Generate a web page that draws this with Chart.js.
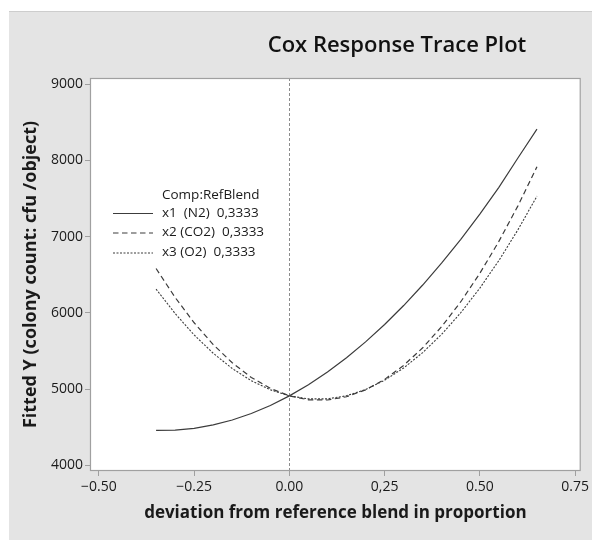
<!DOCTYPE html>
<html>
<head>
<meta charset="utf-8">
<script src="https://cdn.jsdelivr.net/npm/chart.js@4.4.1/dist/chart.umd.min.js"></script>
<style>
html,body{margin:0;padding:0;background:#fff;}
#wrap{width:592px;height:540px;position:relative;}
canvas{display:block;}
</style>
</head>
<body>
<div id="wrap"><canvas id="c" width="592" height="540"></canvas></div>
<script>
const chartTitle = "Cox Response Trace Plot";
const xTitle = "deviation from reference blend in proportion";
const yTitle = "Fitted Y (colony count: cfu /object)";
const legendTitle = "Comp:RefBlend";

const xValues = [-0.35,-0.30,-0.25,-0.20,-0.15,-0.10,-0.05,0.00,0.05,0.10,0.15,0.20,0.25,0.30,0.35,0.40,0.45,0.50,0.55,0.60,0.65];
const seriesN2  = [4459,4462,4485,4530,4594,4679,4784,4910,5056,5223,5410,5618,5846,6095,6364,6654,6964,7295,7645,8030,8409];
const seriesCO2 = [6581,6201,5869,5583,5344,5152,5008,4910,4859,4856,4899,4989,5126,5310,5541,5820,6145,6517,6936,7402,7915];
const seriesO2  = [6310,5990,5709,5469,5269,5109,4990,4910,4871,4871,4912,4993,5115,5276,5478,5719,6001,6323,6685,7088,7530];
const seriesLabels = ["x1  (N2)  0,3333", "x2 (CO2)  0,3333", "x3 (O2)  0,3333"];

const xTickValues = [-0.50,-0.25,0.00,0.25,0.50,0.75];
const xTickLabels = ["\u22120.50","\u22120.25","0.00","0,25","0.50","0.75"];
const yTickValues = [4000,5000,6000,7000,8000,9000];
const yTickLabels = ["4000","5000","6000","7000","8000","9000"];

const FONT = '"Open Sans", "Noto Sans", sans-serif';
Chart.defaults.font.family = FONT;
Chart.defaults.color = '#1a1a1a';

const lineColor = '#3c3c3c';
const dashes = [[], [5.5,3.5], [2,1.5]];

function pts(arr){ return xValues.map((x,i)=>({x:x, y:arr[i]})); }

const decor = {
  id:'decor',
  beforeDraw(chart){
    const {ctx, chartArea:a} = chart;
    ctx.save();
    ctx.fillStyle='#ffffff'; ctx.fillRect(0,0,chart.width,chart.height);
    ctx.fillStyle='#e4e4e4'; ctx.fillRect(9,11,chart.width-9,chart.height-11);
    ctx.fillStyle='#cdcdcd'; ctx.fillRect(9,11,chart.width-9,1);
    ctx.fillStyle='#ffffff'; ctx.fillRect(a.left,a.top,a.right-a.left,a.bottom-a.top);
    ctx.fillStyle='#111';
    ctx.font='600 22px '+FONT;
    ctx.textAlign='center'; ctx.textBaseline='middle';
    ctx.fillText(chartTitle, 397, 46);
    ctx.restore();
  },
  beforeDatasetsDraw(chart){
    const {ctx, chartArea:a} = chart;
    const x0 = Math.round(chart.scales.x.getPixelForValue(0))+0.5;
    ctx.save();
    ctx.strokeStyle='#8c8c8c'; ctx.lineWidth=1; ctx.setLineDash([3,2]);
    ctx.beginPath(); ctx.moveTo(x0,a.top); ctx.lineTo(x0,a.bottom); ctx.stroke();
    ctx.restore();
  },
  afterDraw(chart){
    const {ctx, chartArea:a} = chart;
    ctx.save();
    ctx.strokeStyle='#a0a0a0'; ctx.lineWidth=1.2; ctx.setLineDash([]);
    ctx.strokeRect(a.left+0.5,a.top+0.5,a.right-a.left-1,a.bottom-a.top-1);
    // legend
    ctx.fillStyle='#1a1a1a';
    ctx.font='13.5px '+FONT;
    ctx.textAlign='left'; ctx.textBaseline='middle';
    ctx.fillText(legendTitle, 162, 195);
    const rows=[213,232.5,252.5];
    chart.data.datasets.forEach((ds,i)=>{
      ctx.strokeStyle=ds.borderColor; ctx.lineWidth=1.1; ctx.setLineDash(ds.borderDash||[]);
      ctx.beginPath(); ctx.moveTo(113,rows[i]+0.5); ctx.lineTo(153,rows[i]+0.5); ctx.stroke();
      ctx.fillText(ds.label, 162, rows[i]);
    });
    ctx.restore();
  }
};

new Chart(document.getElementById('c'), {
  type:'line',
  data:{
    datasets:[
      {label:seriesLabels[0], data:pts(seriesN2), borderColor:lineColor, borderWidth:1.2, borderDash:dashes[0], pointRadius:0, fill:false, tension:0},
      {label:seriesLabels[1], data:pts(seriesCO2), borderColor:lineColor, borderWidth:1.2, borderDash:dashes[1], pointRadius:0, fill:false, tension:0},
      {label:seriesLabels[2], data:pts(seriesO2), borderColor:lineColor, borderWidth:1.1, borderDash:dashes[2], pointRadius:0, fill:false, tension:0}
    ]
  },
  options:{
    responsive:false,
    animation:false,
    devicePixelRatio:1,
    layout:{padding:{left:0,top:78,right:9,bottom:0}},
    plugins:{legend:{display:false}, title:{display:false}, tooltip:{enabled:false}},
    scales:{
      x:{
        type:'linear', min:-0.5235, max:0.7649,
        afterBuildTicks(s){ s.ticks = xTickValues.map(v=>({value:v})); },
        afterFit(s){ s.height = 69; },
        ticks:{ autoSkip:false, maxRotation:0, padding:3, font:{size:14}, color:'#1a1a1a',
          callback(v){ const i = xTickValues.findIndex(t=>Math.abs(t-v)<1e-9); return i>=0?xTickLabels[i]:''; } },
        grid:{ display:true, drawOnChartArea:false, drawTicks:true, tickLength:5, tickColor:'#a0a0a0' },
        border:{ display:false },
        title:{ display:true, text:xTitle, font:{size:17, weight:'bold'}, color:'#1a1a1a', padding:{top:0,bottom:17} }
      },
      y:{
        type:'linear', min:3925, max:9079,
        afterBuildTicks(s){ s.ticks = yTickValues.map(v=>({value:v})); },
        afterFit(s){ s.width = 90; },
        ticks:{ autoSkip:false, padding:2, font:{size:14}, color:'#1a1a1a',
          callback(v){ const i = yTickValues.indexOf(v); return i>=0?yTickLabels[i]:''; } },
        grid:{ display:true, drawOnChartArea:false, drawTicks:true, tickLength:5, tickColor:'#a0a0a0' },
        border:{ display:false },
        title:{ display:true, text:yTitle, font:{size:18, weight:'bold'}, color:'#1a1a1a', padding:{top:20,bottom:0} }
      }
    }
  },
  plugins:[decor]
});
</script>
</body>
</html>
